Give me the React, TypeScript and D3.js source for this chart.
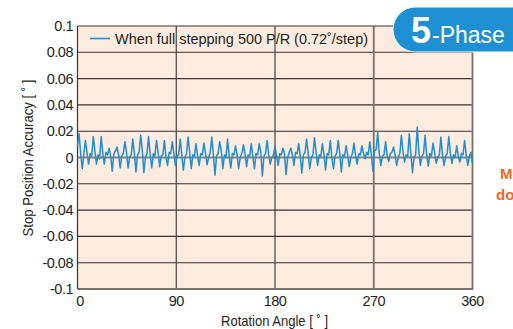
import * as d3 from 'd3'

// stop position error, in 1/1000 degree, one value every 1.44 deg (0..360)
const errorMilli = [
  9, 18, 3, -8.5, 2,
  13, 4, -5, 3, 1,
  16, 5, -5, 2, -1,
  16, 3, -5, 4, 2,
  7, 1, -10.5, 3, 5,
  8, 2, -8, 1, 3,
  12, 4, -8, 0, 2,
  14, 3, -11, 2, 4,
  17, 5, -11.5, 0, 3,
  16, 2, -8, 3, 1,
  13, 4, -7, 1, 2,
  13, 0, -6, 4, 3,
  12, 3, -6, 1, 2,
  14, 2, -9.7, 0, 3,
  15.5, 4, -8.5, 2, 1,
  10.5, 1, -6, 3, 2,
  11, 3, -5.5, 0, 4,
  15.5, 2, -13.5, 1, 3,
  12, 5, -8.5, 2, 0,
  14, 1, -8, 3, 2,
  9, 2, -8.5, 0, 3,
  9.7, 3, -7, 2, 1,
  10.5, 0, -8.5, 3, 2,
  10.5, 4, -14, 1, 3,
  13, 2, -5, 0, 2,
  8.7, 1, -6, 3, 2,
  7, 3, -13, 0, 4,
  7, 2, -6, 4, 3,
  10.5, 1, -12, 2, 4,
  14, 3, -8.5, 0, 2,
  15, 4, -6, 2, 1,
  10.5, 2, -9.5, 3, 2,
  13, 0, -8.5, 1, 3,
  13, 3, -11, 2, 1,
  9, 2, -7, 0, 3,
  11, 1, -5, 3, 2,
  9, 3, -1, 4, 2,
  12, 2, -10.5, 5, 6,
  19, 3, -6, 1, 2,
  12, 1, -3, 3, 4,
  8, 2, -6, 0, 3,
  17, 4, -3.5, 2, 1,
  18, 3, -11.5, 0, 2,
  23, 5, -6, 1, 3,
  17, 2, -6.5, 3, 1,
  11, 4, -4.5, 0, 2,
  15.5, 2, -6, 1, 3,
  16, 3, -4.5, 2, 0,
  9, 1, -3.5, 3, 2,
  13, 2, -6, 1, 4,
  -4,
]
const angleStep = 1.44

const xTicks = [0, 90, 180, 270, 360]
const yTicks = [0.1, 0.08, 0.06, 0.04, 0.02, 0, -0.02, -0.04, -0.06, -0.08, -0.1]
const yTickLabels = ['0.1', '0.08', '0.06', '0.04', '0.02', '0', '-0.02', '-0.04', '-0.06', '-0.08', '-0.1']

const legendText = 'When full stepping 500 P/R (0.72˚/step)'
const xTitle = 'Rotation Angle [ ˚ ]'
const yTitle = 'Stop Position Accuracy [ ˚ ]'

const W = 513
const H = 329
const font = '"Liberation Sans Narrow", "Arial Narrow", "Liberation Sans", Arial, sans-serif'

export default function App() {
  const left = 77.5, right = 472.5, top = 26, bottom = 289

  const x = d3.scaleLinear().domain([0, 360]).range([left, right])
  const y = d3.scaleLinear().domain([-0.1, 0.1]).range([bottom, top])

  const points = errorMilli.map((v, i) => ({ a: i * angleStep, v: v / 1000 }))
  const line = d3.line<{ a: number; v: number }>()
    .x(d => x(d.a))
    .y(d => y(d.v))

  const gridColor = '#3a3230'

  return (
    <svg width={W} height={H} style={{ position: 'absolute', left: 0, top: 0 }} fontFamily={font}>
      <rect x={left} y={top} width={right - left} height={bottom - top} fill="#fdebdf" />

      {/* horizontal grid */}
      {yTicks.map(t => {
        const isZero = t === 0
        const isEdge = t === 0.1 || t === -0.1
        if (isEdge) return null
        return (
          <line key={'h' + t} x1={left} x2={right} y1={y(t)} y2={y(t)}
            stroke={isZero ? '#8a8480' : gridColor}
            strokeWidth={isZero ? 2 : 1.1} />
        )
      })}
      {/* vertical grid */}
      {xTicks.slice(1, -1).map(t => (
        <line key={'v' + t} x1={x(t)} x2={x(t)} y1={top} y2={bottom}
          stroke={t === 270 ? '#77706c' : gridColor} strokeWidth={t === 270 ? 1.8 : 1.1} />
      ))}

      {/* frame */}
      <line x1={left} x2={right} y1={top} y2={top} stroke={gridColor} strokeWidth={1.2} />
      <line x1={left} x2={left} y1={top} y2={bottom} stroke={gridColor} strokeWidth={1.2} />
      <line x1={right} x2={right} y1={top} y2={bottom + 1} stroke="#77706c" strokeWidth={1.8} />
      <line x1={left} x2={right} y1={bottom} y2={bottom} stroke="#77706c" strokeWidth={1.8} />

      <path d={line(points) ?? ''} fill="none" stroke="#1e8fd2" strokeWidth={1.5} strokeLinejoin="round" />

      {/* legend */}
      <line x1={90} x2={110} y1={38.5} y2={38.5} stroke="#1e8fd2" strokeWidth={1.6} />
      <text x={115} y={43.5} fontSize={14} fill="#231f20" textLength={253} lengthAdjust="spacingAndGlyphs">{legendText}</text>

      {/* y ticks */}
      {yTicks.map((t, i) => (
        <text key={'yt' + t} x={73} y={y(t) + 5} fontSize={14.5} letterSpacing={-0.5} textAnchor="end" fill="#231f20">{yTickLabels[i]}</text>
      ))}
      {/* x ticks */}
      {xTicks.map(t => (
        <text key={'xt' + t} x={x(t) + (t === 0 ? 2.5 : 0)} y={306} fontSize={14.5} letterSpacing={-0.5} textAnchor="middle" fill="#231f20">{t}</text>
      ))}

      <text x={274.5} y={326} fontSize={14.5} textAnchor="middle" fill="#231f20" textLength={107} lengthAdjust="spacingAndGlyphs">{xTitle}</text>
      <text transform={`translate(33,158) rotate(-90)`} fontSize={14.5} textAnchor="middle" fill="#231f20" textLength={157} lengthAdjust="spacingAndGlyphs">{yTitle}</text>

      {/* badge */}
      <rect x={393} y={7} width={150} height={45} rx={22.5} fill="#1e8fd2" stroke="#ffffff" strokeWidth={1} />
      <text x={411} y={43} fontSize={36} fontWeight="bold" fill="#ffffff" fontFamily="'Liberation Sans', Arial, sans-serif">5</text>
      <text x={432} y={43} fontSize={23} fill="#ffffff" fontFamily="'Liberation Sans', Arial, sans-serif">-Phase</text>

      {/* side note, cut at the edge like the source */}
      <text x={500} y={179} fontSize={15} fontWeight="bold" fill="#ee6a25" fontFamily="'Liberation Sans', Arial, sans-serif">M</text>
      <text x={496} y={200} fontSize={15} fontWeight="bold" fill="#ee6a25" fontFamily="'Liberation Sans', Arial, sans-serif">do</text>
    </svg>
  )
}
